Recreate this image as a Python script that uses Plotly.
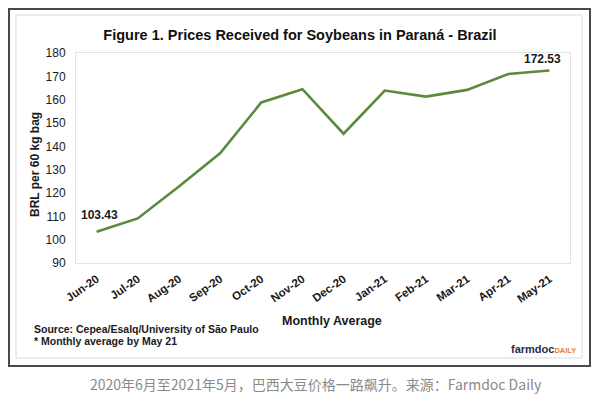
import plotly.graph_objects as go

months = ["Jun-20", "Jul-20", "Aug-20", "Sep-20", "Oct-20", "Nov-20",
          "Dec-20", "Jan-21", "Feb-21", "Mar-21", "Apr-21", "May-21"]
prices = [103.43, 109.1, 122.8, 137.0, 158.8, 164.5,
          145.4, 163.9, 161.3, 164.2, 171.0, 172.53]
y_ticks = [90, 100, 110, 120, 130, 140, 150, 160, 170, 180]

W, H = 600, 399
L, R, T, B = 76, 30, 53, 136
PW, PH = W - L - R, H - T - B

def px(x):
    return (x - L) / PW

def py(y):
    return (H - B - y) / PH

FONT = "Liberation Sans, Arial, sans-serif"
GREEN = "#5a8a3c"

fig = go.Figure()
fig.add_trace(go.Scatter(x=months, y=prices, mode="lines",
                         line=dict(color=GREEN, width=2.6),
                         hoverinfo="skip", showlegend=False))

fig.update_layout(
    width=W, height=H,
    margin=dict(l=L, r=R, t=T, b=B),
    paper_bgcolor="white", plot_bgcolor="white",
    font=dict(family=FONT, color="#1a1a1a"),
    title=dict(text="<b>Figure 1. Prices Received for Soybeans in Paraná - Brazil</b>",
               x=300 / W, xanchor="center", y=1 - 35 / H, yanchor="middle",
               font=dict(size=14.5, family=FONT, color="#111")),
    xaxis=dict(type="category", range=[-0.5, 11.5], tickangle=-35,
               tickfont=dict(size=11.5, family=FONT, color="#1a1a1a"),
               showgrid=False, zeroline=False, showline=True, mirror=True,
               linecolor="#e3e3e3", linewidth=1,
               ticks="outside", ticklen=4, tickcolor="rgba(0,0,0,0)",
               tickprefix="<b>", ticksuffix="</b>"),
    yaxis=dict(range=[90, 180], tickvals=y_ticks,
               tickfont=dict(size=12, family=FONT, color="#1a1a1a"),
               showgrid=False, zeroline=False, showline=True, mirror=True,
               linecolor="#e3e3e3", linewidth=1,
               ticks="outside", ticklen=7, tickcolor="rgba(0,0,0,0)",
               tickprefix="<b>", ticksuffix="</b>"),
)

shapes = [
    dict(type="rect", xref="paper", yref="paper",
         x0=px(9), x1=px(590), y0=py(366), y1=py(9),
         line=dict(color="#4a4a4a", width=2), layer="below"),
    dict(type="rect", xref="paper", yref="paper",
         x0=px(16), x1=px(582), y0=py(358), y1=py(15),
         line=dict(color="#dadada", width=1), layer="below"),
]
fig.update_layout(shapes=shapes)

annotations = [
    dict(text="<b>BRL per 60 kg bag</b>", xref="paper", yref="paper",
         x=px(35), y=py(165), textangle=-90, showarrow=False,
         xanchor="center", yanchor="middle",
         font=dict(size=12, family=FONT, color="#1a1a1a")),
    dict(text="<b>Monthly Average</b>", xref="paper", yref="paper",
         x=px(332), y=py(321), showarrow=False,
         xanchor="center", yanchor="middle",
         font=dict(size=12.5, family=FONT, color="#1a1a1a")),
    dict(text="<b>Source: Cepea/Esalq/University of São Paulo</b>", xref="paper", yref="paper",
         x=px(32), y=py(329), showarrow=False, xanchor="left", yanchor="middle",
         font=dict(size=10.5, family=FONT, color="#1a1a1a")),
    dict(text="<b>* Monthly average by May 21</b>", xref="paper", yref="paper",
         x=px(32), y=py(341), showarrow=False, xanchor="left", yanchor="middle",
         font=dict(size=10.5, family=FONT, color="#1a1a1a")),
    dict(text="<b>farmdoc</b><b><span style='font-size:7.5px;color:#e8822a'>DAILY</span></b>",
         xref="paper", yref="paper", x=px(578), y=py(349), showarrow=False,
         xanchor="right", yanchor="middle",
         font=dict(size=11, family=FONT, color="#1f2d4d")),
    dict(text="<b>103.43</b>", xref="x", yref="y", x=months[0], y=prices[0],
         showarrow=False, xshift=3, yshift=17, xanchor="center", yanchor="middle",
         font=dict(size=12, family=FONT, color="#1a1a1a")),
    dict(text="<b>172.53</b>", xref="x", yref="y", x=months[-1], y=prices[-1],
         showarrow=False, xshift=-7, yshift=11, xanchor="center", yanchor="middle",
         font=dict(size=12, family=FONT, color="#1a1a1a")),
    dict(text="2020年6月至2021年5月，巴西大豆价格一路飙升。来源：Farmdoc Daily",
         xref="paper", yref="paper", x=px(316), y=py(384), showarrow=False,
         xanchor="center", yanchor="middle",
         font=dict(size=14, family="Noto Sans CJK SC, Noto Sans, sans-serif", color="#8a8a8a")),
]
fig.update_layout(annotations=annotations)

fig.write_html("out.html", config={"displayModeBar": False},
               post_script="document.body.style.margin='0';document.body.style.overflow='hidden';")
